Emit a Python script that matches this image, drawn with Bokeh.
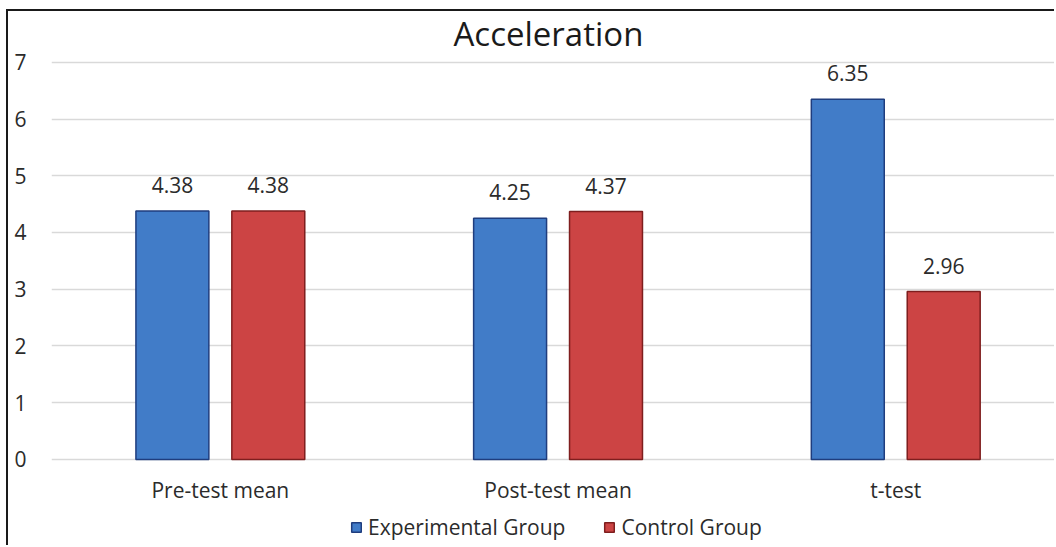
from bokeh.plotting import figure
from bokeh.models import ColumnDataSource, FixedTicker, Range1d, Legend, LegendItem, Label
from bokeh.embed import file_html
from bokeh.resources import INLINE

categories = ["Pre-test mean", "Post-test mean", "t-test"]
experimental = [4.38, 4.25, 6.35]
control = [4.38, 4.37, 2.96]
series_names = ["Experimental Group", "Control Group"]
y_ticks = [0, 1, 2, 3, 4, 5, 6, 7]
title_text = "Acceleration"

FONT = "Open Sans"
TXT = "#2b2b2b"
BLUE, BLUE_EDGE = "#417CC8", "#1F3D7E"
RED, RED_EDGE = "#CC4444", "#7E1E1E"

xpos = [i + 0.5 for i in range(len(categories))]
off = 0.142
bw = 0.216

src = ColumnDataSource(dict(
    xe=[x - off for x in xpos], xc=[x + off for x in xpos],
    exp=experimental, ctl=control,
    exp_lbl=[f"{v:.2f}" for v in experimental],
    ctl_lbl=[f"{v:.2f}" for v in control],
))
cat_src = ColumnDataSource(dict(x=xpos, y=[0] * len(xpos), name=categories))

p = figure(width=1048, height=536, output_backend="svg", toolbar_location=None,
           x_range=Range1d(0, 2.976), y_range=Range1d(-1.5517, 7.895),
           min_border_left=43, min_border_right=0, min_border_top=0, min_border_bottom=0)
p.margin = (9, 0, 0, 6)
p.styles = {"border-left": "2px solid #1a1a1a", "border-top": "2px solid #1a1a1a"}
p.outline_line_color = None
p.background_fill_color = "white"
p.border_fill_color = "white"

r1 = p.vbar(x="xe", top="exp", width=bw, source=src, fill_color=BLUE, line_color=BLUE_EDGE, line_width=1.5)
r2 = p.vbar(x="xc", top="ctl", width=bw, source=src, fill_color=RED, line_color=RED_EDGE, line_width=1.5)

for xcol, ycol, lcol in [("xe", "exp", "exp_lbl"), ("xc", "ctl", "ctl_lbl")]:
    p.text(x=xcol, y=ycol, text=lcol, source=src, text_align="center", text_baseline="alphabetic",
           y_offset=-26, text_font_size="21px", text_color=TXT, text_font={"value": FONT})

# category labels under the bars
p.text(x="x", y="y", text="name", source=cat_src, text_align="center", text_baseline="middle",
       y_offset=31, text_font_size="21px", text_color=TXT, text_font={"value": FONT})

title = Label(x=1.4715, y=7.512, text=title_text, text_align="center", text_baseline="middle",
              text_font=FONT, text_font_size="33px", text_color="#1a1a1a")
p.add_layout(title)

p.xaxis.visible = False
p.xgrid.visible = False
p.ygrid.grid_line_color = "#D9D9D9"
p.ygrid.grid_line_width = 1.5
p.ygrid.ticker = FixedTicker(ticks=y_ticks)
p.yaxis.ticker = FixedTicker(ticks=y_ticks)
p.yaxis.axis_line_color = None
p.yaxis.major_tick_line_color = None
p.yaxis.minor_tick_line_color = None
p.yaxis.major_label_text_font = FONT
p.yaxis.major_label_text_font_size = "21px"
p.yaxis.major_label_text_color = TXT
p.yaxis.major_label_standoff = 19

legend = Legend(items=[LegendItem(label=series_names[0], renderers=[r1]),
                       LegendItem(label=series_names[1], renderers=[r2])],
                orientation="horizontal", location=(299, 6),
                padding=0, margin=0, spacing=38, glyph_width=12, glyph_height=12,
                label_standoff=6, label_text_font=FONT, label_text_font_size="21px",
                label_text_color=TXT, border_line_color=None, background_fill_alpha=0)
p.add_layout(legend, "center")

open("out.html", "w").write(file_html(p, INLINE))
